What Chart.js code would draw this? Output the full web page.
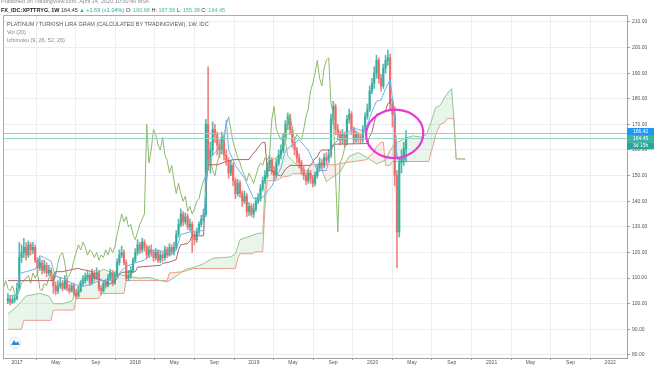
<!DOCTYPE html>
<html>
<head>
<meta charset="utf-8">
<script src="https://cdn.jsdelivr.net/npm/chart.js@4.4.1/dist/chart.umd.min.js"></script>
<style>
  html, body { margin: 0; padding: 0; background: #fff; }
  #wrap { position: relative; width: 654px; height: 366px; }
</style>
</head>
<body>
<div id="wrap"><canvas id="chart" width="654" height="366"></canvas></div>
<script>
// Weekly XPT/TRY per gram, week 0 = first week of Jan 2017
const firstWeek = -4
const firstOpen = 101
const closes = [
  102, 100.5, 101.5, 102,
  106, 118, 120, 122, 119, 123, 121, 122, 117, 114,
  116, 113, 115, 112, 113, 111, 107, 105, 107, 108,
  106, 109, 106, 105, 107, 104, 103, 105, 108, 109,
  110, 111, 108, 112, 110, 112, 106, 105, 108, 107,
  110, 112, 108, 111, 116, 119, 120, 116, 110, 111,
  113, 117, 120, 123, 121, 124, 122, 119, 121, 120,
  118, 120, 117, 119, 118, 121, 119, 122, 120, 122,
  127, 131, 135, 132, 134, 130, 131, 127, 125, 128,
  131, 133, 135, 170, 155, 160, 168, 166, 162, 160,
  165, 158, 156, 151, 154, 148, 143, 147, 143, 140,
  142, 136, 138, 135, 137, 140, 141, 145, 148, 150,
  153, 156, 152, 150, 155, 158, 160, 165, 170, 173,
  168, 163, 160, 157, 155, 152, 150, 148, 151, 149,
  147, 150, 153, 155, 154, 157, 156, 158, 172, 177,
  168, 166, 164, 166, 163, 172, 174, 168, 164, 166,
  165, 164, 168, 173, 176, 183, 186, 190, 195, 188,
  185, 192, 195, 196, 178, 174, 150, 128, 155, 157,
  160.68, 164.45
]
const highs = [
  104, 103, 103, 103.5,
  108, 124, 123, 125.5, 124, 124.5, 124, 124, 123, 118,
  118, 117, 117, 116, 115, 114, 112, 108.5, 109, 110,
  109, 111, 110, 107.5, 108, 108, 105.5, 106.5, 109, 111,
  112, 113, 112, 113.5, 113, 114, 113, 107, 109, 109.5,
  111.5, 113.5, 113, 112.5, 117.5, 121, 122.5, 121, 117, 113,
  114.5, 118, 121.5, 125, 124, 125.5, 125, 123, 122.5, 123,
  121, 121.5, 121, 120.5, 120, 122.5, 122, 123.5, 123, 124,
  128.5, 133, 137, 136, 135.5, 135, 133, 132, 128, 129.5,
  132, 134.5, 137, 172, 192.5, 163, 171, 170, 167, 164,
  167, 166, 160, 157, 156, 155, 149, 148.5, 148, 144,
  144, 143, 139.5, 139, 139, 141.5, 143, 146.5, 149.5, 152,
  155, 158, 157, 153.5, 156.5, 160, 162, 166.5, 171.5, 174.5,
  174, 169, 164.5, 161, 158.5, 156, 153.5, 151, 152.5, 152,
  150, 151.5, 154.5, 157, 156.5, 158.5, 159, 160, 174, 179,
  178, 170, 167.5, 168, 167, 173.5, 176, 175, 169, 167.5,
  167, 166.5, 169.5, 174.5, 178, 185, 188, 192.5, 197, 196,
  189.5, 193.5, 197, 199, 197.5, 180, 177, 152, 157, 160,
  163, 167.56
]
const lows = [
  100, 99.5, 100, 100.5,
  101.5, 105, 116, 118, 117, 118, 119, 119.5, 116, 112,
  113, 111.5, 112, 110.5, 111, 109, 104, 103.5, 104, 106,
  105, 105.5, 105, 104, 104.5, 103, 102, 102.5, 104.5, 107,
  108, 109, 107, 107.5, 109, 109.5, 105, 103.5, 104.5, 106,
  106.5, 109, 107, 107.5, 110.5, 115, 118, 115, 109, 109,
  110, 112, 116, 119, 119.5, 120, 120.5, 117.5, 118, 118.5,
  116.5, 117, 116, 116, 116.5, 117, 118, 118.5, 119, 119,
  121, 126, 130, 130.5, 131, 129, 128.5, 120, 123, 124,
  127, 130, 132, 134, 152, 151, 158, 163, 158, 157,
  158.5, 156, 154, 149, 150, 146, 141, 142, 141.5, 138,
  139, 134, 134.5, 134, 133.5, 136, 139, 140, 144, 147,
  149, 152, 150.5, 148, 149, 154, 156.5, 159, 164, 168,
  166, 161, 158, 155, 153, 150.5, 148.5, 146.5, 147, 147,
  145.5, 146, 149, 152, 152.5, 153, 154.5, 155, 157, 170,
  166, 164, 162, 162.5, 161, 162, 170.5, 166, 162.5, 163,
  163, 162.5, 163, 167, 172, 175, 182, 184, 188, 186,
  183, 184, 190, 193, 176, 169, 146, 114, 126, 151,
  154, 155.38
]

// Ichimoku (9, 26, 52, 26) as [week, value]
const lagWeeks = 26
const tenkan = [
  [-4, 103], [0, 103.5], [1, 111.75], [4, 112.5], [8, 113.5], [9, 115.25], [10, 118.75], [12, 118],
  [13, 117.5], [15, 116.5], [16, 113.5], [17, 110.75], [20, 110], [24, 108], [28, 106.5], [32, 107.5],
  [36, 109], [40, 109], [44, 110.5], [46, 113], [48, 114.5], [52, 116], [56, 117], [60, 121],
  [64, 120.5], [68, 120], [70, 121], [72, 127], [76, 128], [80, 128.5], [82, 128.5], [83, 146],
  [84, 156], [86, 157.8], [90, 162.25], [91, 163.25], [92, 171.75], [93, 160], [96, 154], [100, 149],
  [104, 141], [108, 141.5], [112, 146], [116, 153], [118, 159.75], [120, 161.25], [124, 164], [128, 160],
  [132, 152], [136, 152], [138, 160], [140, 163], [144, 166], [148, 168.5], [152, 167.5], [154, 170],
  [156, 175], [158, 179], [160, 179.5], [162, 184], [164, 187.5], [166, 172.5], [167, 156.5], [171, 156.5]
]
const kijun = [
  [-4, 109], [16, 109], [17, 112.5], [20, 112.5], [25, 113.5], [27, 113.75], [29, 113.25], [31, 113],
  [33, 112.5], [34, 110], [36, 109.5], [38, 109], [40, 108], [41, 107.75], [44, 109.75], [45, 111.5],
  [46, 112.25], [52, 112.5], [53, 114.25], [63, 115], [64, 115.75], [67, 116.25], [70, 117.25], [71, 121],
  [72, 123], [75, 123.5], [76, 124.5], [77, 126.5], [82, 126.5], [83, 144], [84, 154.25], [88, 154.25],
  [89, 154.5], [92, 155.5], [95, 156.25], [102, 156.25], [103, 157.75], [105, 159.75], [107, 162.25], [108, 163],
  [109, 163], [110, 152.25], [112, 151.75], [116, 149.75], [118, 152.5], [120, 154], [129, 154], [130, 155.25],
  [131, 156.75], [132, 157.25], [133, 159.25], [134, 160], [138, 160], [139, 162.25], [154, 162.5], [155, 165.25],
  [156, 167], [157, 170.75], [158, 174], [160, 174.5], [162, 175.5], [163, 178], [165, 180], [166, 172.5],
  [167, 156.5], [171, 156.5]
]
const spanA = [
  [-4, 96], [0, 99], [4, 103], [10, 104], [14, 103], [16, 100], [20, 100], [24, 101],
  [26, 105], [28, 109], [30, 110.75], [34, 111.25], [38, 113.5], [42, 112], [46, 111.25], [50, 110.5],
  [54, 110], [58, 110.25], [62, 109.25], [66, 108.5], [70, 110.75], [74, 113.4], [78, 114.25], [82, 115.6],
  [86, 117.75], [90, 118], [94, 118.25], [96, 119.5], [98, 125], [102, 126.25], [106, 127.5], [108, 127.5],
  [109, 145], [110, 155], [112, 156], [116, 158.25], [118, 163.6], [119, 157.75], [122, 155], [126, 152.6],
  [130, 149.75], [134, 152.25], [136, 147.6], [138, 149], [142, 151.4], [146, 157.5], [150, 159], [154, 157],
  [158, 154.6], [162, 156], [164, 160], [166, 162.25], [170, 164.5], [174, 165.5], [178, 165], [180, 166.2],
  [182, 171], [184, 176.5], [186, 177.5], [188, 180.5], [190, 183], [191, 184], [192, 172.5], [193, 156.5],
  [197, 156.5]
]
const spanB = [
  [-4, 90], [2, 90], [3, 93.5], [15, 93.5], [16, 97.5], [25, 97.5], [26, 102], [36, 102],
  [37, 104], [47, 104], [48, 109], [66, 109], [67, 112], [73, 112.5], [75, 113], [77, 113.5],
  [78, 113.75], [96, 113.75], [97, 117.5], [98, 119.5], [103, 119.5], [104, 119.75], [105, 120.25], [108, 120.25],
  [109, 137.75], [110, 148], [114, 148], [115, 148.5], [117, 149.5], [119, 149.75], [120, 150], [121, 150.75],
  [126, 150.75], [127, 151.25], [128, 152.25], [129, 154.25], [140, 154.25], [141, 154.5], [142, 154.75], [154, 156.25],
  [155, 157.75], [156, 158.25], [157, 159.75], [158, 161.25], [159, 162.25], [160, 163], [161, 163], [162, 154],
  [164, 154], [165, 155.5], [181, 155.5], [182, 159.25], [183, 162], [184, 165.75], [185, 168], [186, 170],
  [188, 170.75], [189, 172.25], [192, 172.25], [193, 156.5], [197, 156.5]
]

// axis
const tickWeeks = [0, 17.1, 34.6, 52, 69.1, 86.7, 104.1, 121.3, 138.9, 156.3, 173.6, 191.1, 208.6, 225.7, 243.3, 260.7]
const tickLabels = ['2017', 'May', 'Sep', '2018', 'May', 'Sep', '2019', 'May', 'Sep', '2020', 'May', 'Sep', '2021', 'May', 'Sep', '2022']
const priceTicks = [80, 90, 100, 110, 120, 130, 140, 150, 160, 170, 180, 190, 200, 210]
const xMin = -6.15, xMax = 268.1
const yMin = 78.8, yMax = 212.7

const lastPrice = 164.45
const markedPrice = 166.42
const countdown = '3d 15h'
// hand drawn ring, in week / price units
const ring = { week: 166, value: 166.3, halfWeeks: 12.6, halfValue: 9.4 }

const FONT = '"Liberation Sans", Arial, sans-serif'
const upColor = 'rgba(45,170,155,0.8)'
const downColor = 'rgba(238,98,95,0.78)'

const weeks = closes.map((_, i) => firstWeek + i)
const opens = closes.map((c, i) => i === 0 ? firstOpen : closes[i - 1])
const candleColors = closes.map((c, i) => c >= opens[i] ? upColor : downColor)
const toPoints = list => list.map(([w, v]) => ({ x: w, y: v }))

const lineBase = { type: 'line', pointRadius: 0, borderWidth: 1, tension: 0, fill: false }

const overlay = {
    id: 'overlay',
    afterDraw(chart) {
        const { ctx, chartArea: a, scales: { x, y } } = chart
        ctx.save()

        // pane frame (left + top)
        ctx.strokeStyle = '#a9acb3'
        ctx.lineWidth = 1
        ctx.beginPath()
        ctx.moveTo(a.left + 0.5, a.bottom)
        ctx.lineTo(a.left + 0.5, a.top + 0.5)
        ctx.lineTo(a.right, a.top + 0.5)
        ctx.stroke()

        // header lines
        ctx.textBaseline = 'alphabetic'
        ctx.font = '5.5px ' + FONT
        ctx.fillStyle = '#8a8a8a'
        ctx.fillText('Published on TradingView.com, April 14, 2020 10:00:40 MSK', 1, 2.8)

        const runs = [
            ['FX_IDC:XPTTRYG, 1W ', '#222', true],
            ['164.45 ', '#333', false],
            ['\u25B2 +1.69 (+1.04%) ', '#26a69a', false],
            ['O: ', '#333', false], ['160.68 ', '#3fb8a6', false],
            ['H: ', '#333', false], ['167.56 ', '#3fb8a6', false],
            ['L: ', '#333', false], ['155.38 ', '#3fb8a6', false],
            ['C: ', '#333', false], ['164.45', '#3fb8a6', false]
        ]
        let tx = 1
        runs.forEach(([text, color, bold]) => {
            ctx.font = (bold ? 'bold ' : '') + '5.5px ' + FONT
            ctx.fillStyle = color
            ctx.fillText(text, tx, 12)
            tx += ctx.measureText(text).width
        })

        // study legend
        ctx.font = '5.5px ' + FONT
        ctx.fillStyle = '#555'
        ctx.fillText('PLATINUM / TURKISH LIRA GRAM (CALCULATED BY TRADINGVIEW), 1W, IDC', 7, 26)
        ctx.fillStyle = '#888'
        ctx.fillText('Vol (20)', 7, 34)
        ctx.fillText('Ichimoku (9, 26, 52, 26)', 7, 41.5)

        // price labels on the scale
        const box = (text, cy, bg) => {
            ctx.fillStyle = bg
            ctx.fillRect(a.right, cy - 3.6, 654 - a.right, 7.2)
            ctx.fillStyle = '#fff'
            ctx.font = '5px ' + FONT
            ctx.textBaseline = 'middle'
            ctx.fillText(text, a.right + 6, cy + 0.3)
        }
        const lastY = y.getPixelForValue(lastPrice)
        box(markedPrice.toFixed(2), y.getPixelForValue(markedPrice) - 2, '#2196f3')
        box(lastPrice.toFixed(2), lastY, '#3db3a3')
        box(countdown, lastY + 7.2, '#26a69a')

        // hand drawn ring
        const cx = x.getPixelForValue(ring.week)
        const cy = y.getPixelForValue(ring.value)
        const rx = x.getPixelForValue(ring.week + ring.halfWeeks) - cx
        const ry = y.getPixelForValue(ring.value - ring.halfValue) - cy
        ctx.strokeStyle = '#e23ad5'
        ctx.lineWidth = 2.2
        ctx.lineCap = 'round'
        ctx.beginPath()
        ctx.ellipse(cx, cy, rx, ry, -0.1, -1.35, -1.35 + Math.PI * 2 + 0.3)
        ctx.stroke()

        // small logo bottom left
        ctx.lineWidth = 0.8
        ctx.strokeStyle = '#d5d8de'
        ctx.fillStyle = '#fff'
        ctx.beginPath()
        ctx.arc(15, a.bottom - 15, 5.5, 0, Math.PI * 2)
        ctx.fill()
        ctx.stroke()
        ctx.fillStyle = '#2a8bd9'
        ctx.beginPath()
        ctx.moveTo(11, a.bottom - 13)
        ctx.lineTo(14, a.bottom - 18)
        ctx.lineTo(16, a.bottom - 15)
        ctx.lineTo(18, a.bottom - 17)
        ctx.lineTo(19.5, a.bottom - 13)
        ctx.closePath()
        ctx.fill()

        ctx.restore()
    }
}

Chart.defaults.font.family = FONT

new Chart(document.getElementById('chart'), {
    type: 'line',
    data: {
        datasets: [
            {
                ...lineBase, label: 'Lead 1', data: toPoints(spanA), borderColor: '#93c690', order: 9,
                fill: { target: 1, above: 'rgba(76,175,80,0.12)', below: 'rgba(244,67,54,0.10)' }
            },
            { ...lineBase, label: 'Lead 2', data: toPoints(spanB), borderColor: '#f0a193', order: 9 },
            {
                type: 'bar', label: 'wicks', order: 6, grouped: false, barThickness: 1, borderWidth: 0,
                data: weeks.map((w, i) => ({ x: w, y: [lows[i], highs[i]] })),
                backgroundColor: candleColors
            },
            {
                type: 'bar', label: 'bodies', order: 5, grouped: false, barThickness: 1.6, borderWidth: 0, minBarLength: 1,
                data: weeks.map((w, i) => ({ x: w, y: [opens[i], closes[i]] })),
                backgroundColor: candleColors
            },
            {
                ...lineBase, label: 'Lagging', order: 3, borderColor: '#8abb6a',
                data: weeks.map((w, i) => ({ x: w - lagWeeks, y: closes[i] }))
            },
            { ...lineBase, label: 'Base', data: toPoints(kijun), borderColor: '#ad6562', order: 2 },
            { ...lineBase, label: 'Conversion', data: toPoints(tenkan), borderColor: '#6fb0ea', order: 1 },
            {
                ...lineBase, label: 'marked', order: 0, borderColor: '#8ccbea',
                data: [{ x: xMin, y: markedPrice }, { x: xMax, y: markedPrice }]
            },
            {
                ...lineBase, label: 'last', order: 0, borderColor: '#90d4c8',
                data: [{ x: xMin, y: lastPrice }, { x: xMax, y: lastPrice }]
            }
        ]
    },
    options: {
        responsive: false,
        animation: false,
        devicePixelRatio: 1,
        events: [],
        layout: { padding: { top: 15, left: 3, right: 0, bottom: 0 } },
        plugins: { legend: { display: false }, tooltip: { enabled: false } },
        scales: {
            x: {
                type: 'linear', position: 'bottom', min: xMin, max: xMax, offset: false,
                grid: { color: '#eceef2', drawTicks: true, tickLength: 2, tickColor: '#9ea1a8' },
                border: { color: '#9ea1a8' },
                ticks: {
                    font: { size: 5 }, color: '#555', padding: 0, autoSkip: false, maxRotation: 0,
                    callback: (v, i) => tickLabels[i]
                },
                afterBuildTicks: s => { s.ticks = tickWeeks.map(v => ({ value: v })) },
                afterFit: s => { s.height = 8 }
            },
            y: {
                type: 'linear', position: 'right', min: yMin, max: yMax,
                grid: { color: '#eceef2', drawTicks: true, tickLength: 3, tickColor: '#9ea1a8' },
                border: { color: '#9ea1a8' },
                ticks: { font: { size: 5 }, color: '#555', padding: 2, callback: v => v.toFixed(2) },
                afterBuildTicks: s => { s.ticks = priceTicks.map(v => ({ value: v })) },
                afterFit: s => { s.width = 27 }
            }
        }
    },
    plugins: [overlay]
})
</script>
</body>
</html>
